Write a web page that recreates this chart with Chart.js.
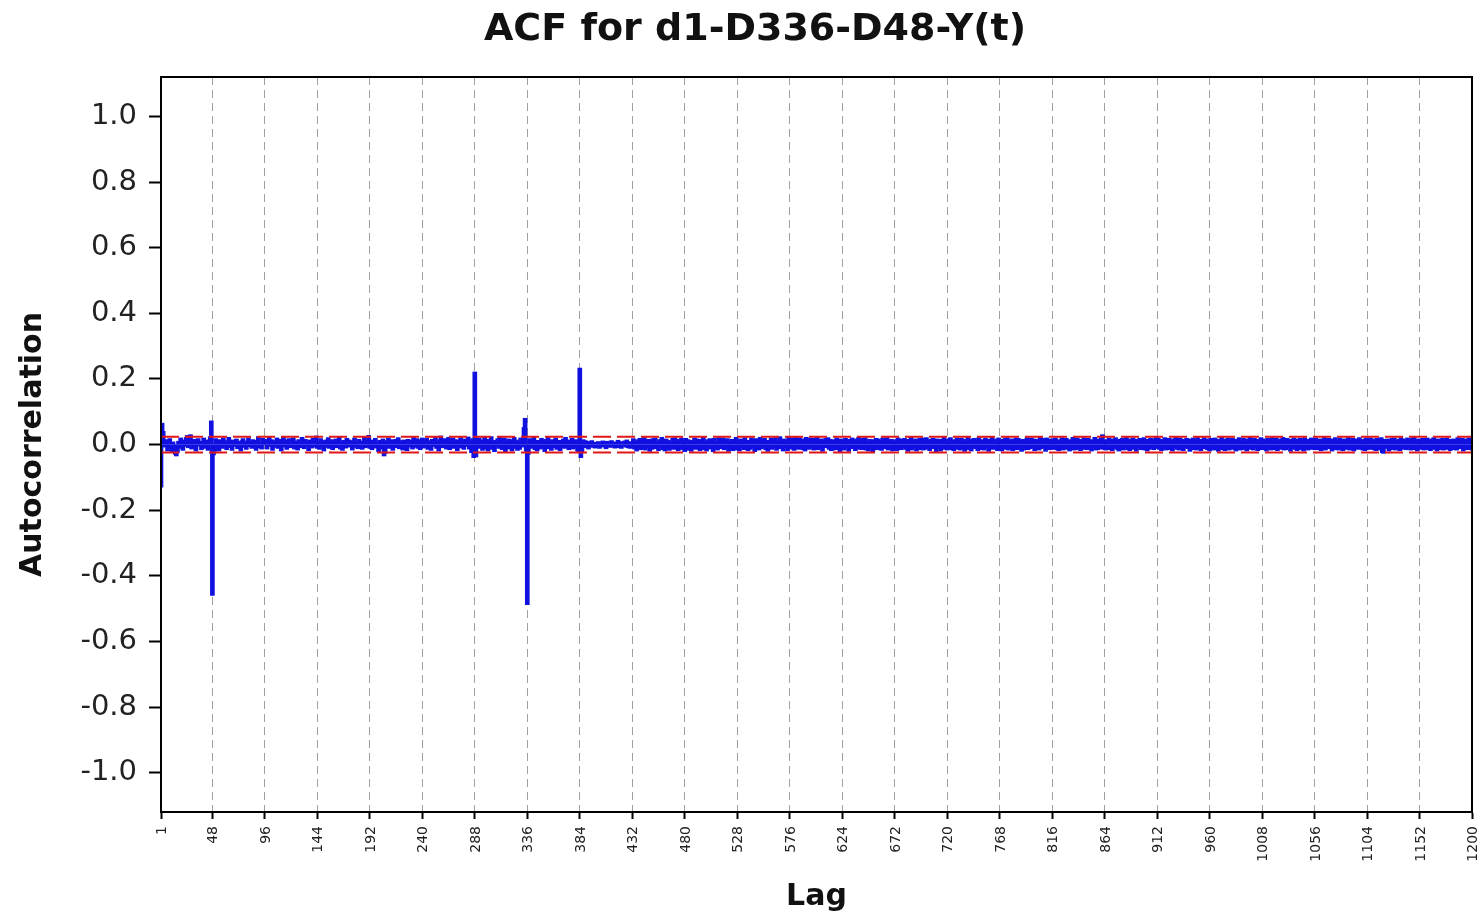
<!DOCTYPE html>
<html>
<head>
<meta charset="utf-8">
<title>ACF for d1-D336-D48-Y(t)</title>
<script src="https://cdn.jsdelivr.net/npm/chart.js@4.4.1/dist/chart.umd.min.js"></script>
<style>
  html, body { margin:0; padding:0; background:#fff; }
  #wrap { position:relative; width:1477px; height:919px; }
  canvas { display:block; }
  .lag-label {
    position:absolute;
    font:14px "DejaVu Sans", sans-serif;
    line-height:14px;
    color:#222;
    writing-mode:vertical-rl;
    transform:rotate(180deg);
    white-space:nowrap;
  }
</style>
</head>
<body>
<div id="wrap">
  <canvas id="acfChart" width="1477" height="919"></canvas>
</div>
<script>
const chartTitle = "ACF for d1-D336-D48-Y(t)";

// autocorrelation per lag, in thousandths, one row per 48 lags (lag 1..1200)
const acfMilli = [
  -130,65,40,12,-8,15,-20,5, 18,-10,-22,8,-15,-30,-35,-25, 10,-12,20,6,-18,14,-6,22, 28,-10,5,30,-14,8,16,-9, -20,12,18,-5,10,-16,7,20, -12,4,14,-18,9,24,72,-460,
  -32,-25,18,-14,10,-20,15,6, -12,20,-8,12,-16,9,22,-10, 5,-18,14,8,-6,17,-13,10, 4,-20,12,18,-9,6,-15,11, 20,-7,9,-12,15,-4,8,-18, 13,24,-10,6,-14,19,9,16,
  10,-14,8,22,-6,15,-18,5, 12,-9,20,-12,7,16,-20,9, 25,-8,14,-15,6,18,-10,12, -5,20,-14,8,11,-17,15,4, -10,22,9,-13,16,-6,10,-19, 14,7,-11,19,-8,12,26,-12,
  8,-15,18,-7,12,-20,10,14, -9,21,-12,6,15,-16,9,-4, 17,-10,11,23,-14,7,-18,13, 5,-11,19,-8,14,-6,10,-17, 12,20,-9,6,-13,16,-5,11, -15,9,22,-10,14,-7,28,-12,
  10,-16,14,-8,19,-11,6,-22, 13,8,-14,17,-35,-28,12,-9, 20,-12,7,15,-18,10,-6,16, -10,21,-13,9,12,-17,14,-5, 8,-19,16,11,-8,13,-14,22, -9,6,18,-12,10,-16,15,20,
  -11,14,-7,19,-15,9,12,-18, 16,-6,10,24,-12,8,-20,15, 26,-10,13,-8,18,-14,7,22, -16,11,-9,20,-12,15,6,-19, 14,-8,21,-11,9,-15,17,-6, 12,23,-14,10,-25,18,-40,221,
  -38,15,-12,20,-9,14,-18,11, 22,-14,8,-20,16,-10,24,-15, 9,-22,13,-6,18,-12,25,-8, -16,12,20,-24,10,-14,17,-9, 15,-20,8,22,-12,14,-18,10, -15,20,-8,12,52,80,-20,-488,
  -30,18,-12,14,-8,22,-16,10, -20,13,7,-14,19,-9,12,-22, 16,-6,24,-13,9,-18,15,11, -10,20,-15,8,13,-19,10,-7, 17,-12,22,-9,14,-16,8,-11, 19,-14,12,-8,15,-20,-25,233,
  -40,-22,15,-10,12,-8,10,-14, 8,-6,12,-9,5,-11,7,-4, 9,-12,6,-8,11,-5,7,-13, 10,-6,4,-9,12,-7,8,-11, 5,-10,13,-6,9,-12,7,-5, 11,-8,14,-10,6,-12,9,-7,
  18,-14,9,-20,15,-8,19,-16, 11,-12,21,-17,13,-9,16,-21, 12,-15,18,-10,20,-13,9,-19, 15,-8,22,-16,12,-20,17,-10, 13,-18,8,-12,19,-15,21,-9, 16,-19,10,-13,20,-16,12,-22,
  19,-10,15,-18,9,-21,13,-12, 20,-15,17,-9,12,-19,16,-13, 22,-16,10,-20,15,-8,18,-14, 13,-22,19,-12,9,-17,21,-10, 15,-13,20,-16,12,-9,18,-21, 10,-15,16,-19,13,-12,22,-17,
  12,-20,17,-9,15,-16,21,-13, 9,-19,13,-15,20,-10,16,-22, 18,-12,10,-17,22,-13,15,-8, 19,-16,12,-21,13,-10,20,-15, 16,-9,21,-18,10,-13,24,-12, 15,-20,17,-10,13,-19,22,-14,
  20,-13,16,-18,23,-9,19,-15, 21,-12,17,-16,13,-20,22,-10, 16,-15,20,-9,19,-17,12,-13, 22,-16,15,-12,17,-21,13,-9, 19,-10,21,-15,16,-19,12,-17, 15,-13,20,-16,10,-22,17,-12,
  13,-17,19,-10,15,-21,16,-13, 20,-9,12,-19,17,-15,22,-12, 10,-16,19,-13,21,-17,9,-20, 16,-12,15,-22,13,-10,19,-16, 17,-15,12,-18,20,-9,15,-13, 21,-17,13,-12,16,-20,10,-15,
  15,-19,20,-13,12,-16,17,-10, 19,-15,13,-21,16,-12,22,-17, 12,-9,17,-20,15,-13,19,-16, 20,-17,10,-15,21,-12,13,-19, 16,-13,19,-10,15,-22,17,-12, 13,-20,16,-15,22,-9,12,-17,
  17,-12,21,-16,13,-19,15,-10, 20,-15,12,-17,19,-13,16,-21, 10,-16,22,-12,15,-20,17,-9, 19,-13,13,-19,21,-15,12,-16, 15,-17,20,-10,16,-21,13,-12, 22,-15,17,-13,12,-19,20,-16,
  13,-20,16,-12,19,-15,21,-17, 12,-13,17,-19,15,-10,20,-16, 19,-12,13,-21,16,-17,10,-15, 21,-16,15,-13,20,-9,17,-19, 16,-15,12,-17,22,-13,19,-10, 15,-21,20,-12,13,-16,17,-15,
  17,-13,20,-16,12,-19,15,-10, 21,-17,16,-12,19,-15,13,-20, 15,-9,22,-17,13,-16,20,-12, 16,-19,12,-15,21,-13,17,-16, 19,-12,15,-20,13,-10,22,-17, 12,-16,17,-13,20,30,-15,13,
  -17,15,-12,20,-16,13,-19,17, -10,21,-15,12,-20,16,-13,19, -17,15,-9,22,-16,13,-19,17, -12,20,-15,16,-21,13,-10,19, -16,15,-13,21,-17,12,-20,16, -15,19,-10,17,-16,13,25,-12,
  20,-15,16,-19,13,-12,21,-17, 15,-13,19,-16,12,-20,17,-10, 22,-15,13,-17,20,-12,16,-19, 15,-9,19,-13,17,-21,12,-16, 20,-15,13,-17,22,-12,15,-19, 16,-13,21,-10,17,-16,13,-20,
  19,-12,15,-17,20,-13,16,-21, 13,-15,22,-16,12,-19,17,-10, 20,-17,15,-12,19,-15,13,-20, 16,-13,21,-17,10,-16,19,-12, 15,-20,17,-13,22,-15,12,-17, 19,-10,16,-19,13,-15,21,-16,
  17,-15,13,-20,19,-12,16,-17, 21,-13,15,-16,20,-19,12,-15, 17,-12,22,-17,13,-16,19,-10, 15,-21,16,-13,20,-15,17,-19, 13,-12,19,-16,15,-20,21,-13, 16,-17,12,-15,20,-13,17,-16,
  20,-16,15,-12,17,-19,13,-15, 22,-17,16,-13,19,-12,15,-20, 17,-15,21,-16,12,-17,20,-13, 15,-19,17,-10,16,-15,22,-17, 13,-16,19,-20,15,-12,17,-15, 21,-13,16,-17,12,-19,20,-16,
  16,-15,20,-12,17,-16,13,-19, 19,-13,15,-17,21,-25,-27,16, 15,-12,17,-20,13,-16,19,-15, 20,-17,12,-13,16,-19,21,-10, 17,-15,13,-16,20,-12,15,-17, 19,-16,22,-13,12,-20,17,-15,
  16,-13,19,-17,15,-12,20,-16, 13,-19,17,-15,21,-13,16,-20, 17,-12,15,-16,19,-17,13,-15, 20,-13,16,-19,12,-15,17,-16, 15,-17,21,-12,16,-13,19,-20, 17,-15,13,-16,20,-12,15,-17
];

// x tick positions and y tick values
const lagTicks = [1,48,96,144,192,240,288,336,384,432,480,528,576,624,672,720,768,816,864,912,960,1008,1056,1104,1152,1200];
const acfTicks = [-1.0,-0.8,-0.6,-0.4,-0.2,0.0,0.2,0.4,0.6,0.8,1.0];

// 95% confidence bound
const confBound = 0.024;

const firstLag = lagTicks[0];
const lastLag = lagTicks[lagTicks.length - 1];
const acfPoints = acfMilli.map((v, i) => ({ x: i + 1, y: v / 1000 }));

// frame round the plot and the chart title
const frameAndTitle = {
  id: "frameAndTitle",
  afterDraw(chart) {
    const { ctx, chartArea: a } = chart;
    ctx.save();
    ctx.strokeStyle = "#000";
    ctx.lineWidth = 2;
    ctx.strokeRect(a.left, a.top, a.right - a.left, a.bottom - a.top);
    ctx.fillStyle = "#111";
    ctx.font = "bold 38px 'DejaVu Sans'";
    ctx.textAlign = "center";
    ctx.textBaseline = "middle";
    ctx.fillText(chartTitle, 755, 30);
    ctx.restore();
  }
};

const chart = new Chart(document.getElementById("acfChart"), {
  type: "bar",
  data: {
    datasets: [
      {
        label: "upper bound",
        type: "line",
        data: [{ x: firstLag, y: confBound }, { x: lastLag, y: confBound }],
        borderColor: "#e01818",
        borderWidth: 2,
        borderDash: [18, 6],
        pointRadius: 0,
        order: 0
      },
      {
        label: "lower bound",
        type: "line",
        data: [{ x: firstLag, y: -confBound }, { x: lastLag, y: -confBound }],
        borderColor: "#e01818",
        borderWidth: 2,
        borderDash: [18, 6],
        pointRadius: 0,
        order: 0
      },
      {
        label: "ACF",
        data: acfPoints,
        backgroundColor: "#1010e0",
        borderWidth: 0,
        barThickness: 4,
        order: 1
      }
    ]
  },
  options: {
    responsive: false,
    animation: false,
    devicePixelRatio: 1,
    layout: { padding: { top: 77, right: 5, bottom: 0, left: 0 } },
    plugins: { legend: { display: false }, tooltip: { enabled: false } },
    scales: {
      x: {
        type: "linear",
        min: firstLag,
        max: lastLag,
        offset: false,
        afterBuildTicks: s => { s.ticks = lagTicks.map(v => ({ value: v })); },
        afterFit: s => { s.height = 107; s.paddingLeft = 0; s.paddingRight = 0; },
        ticks: { display: false },
        grid: {
          offset: false,
          color: "#a0a0a0",
          lineWidth: 1,
          tickColor: "#000",
          tickLength: 7,
          tickWidth: 2,
          tickBorderDash: []
        },
        border: { color: "#000", width: 2, dash: [8, 5] },
        title: {
          display: true,
          text: "Lag",
          color: "#111",
          font: { family: "DejaVu Sans", size: 30, weight: "bold" },
          padding: { top: 0, bottom: 4 }
        }
      },
      y: {
        min: -1.12,
        max: 1.12,
        afterBuildTicks: s => { s.ticks = acfTicks.map(v => ({ value: v })); },
        afterFit: s => { s.width = 161; s.paddingTop = 0; s.paddingBottom = 0; },
        ticks: {
          padding: 12,
          color: "#222",
          font: { family: "DejaVu Sans", size: 29 },
          callback: v => v.toFixed(1)
        },
        grid: {
          drawOnChartArea: false,
          tickColor: "#000",
          tickLength: 12,
          tickWidth: 2
        },
        border: { color: "#000", width: 2 },
        title: {
          display: true,
          text: "Autocorrelation",
          color: "#111",
          font: { family: "DejaVu Sans", size: 30, weight: "bold" },
          padding: { top: 15, bottom: 0 }
        }
      }
    }
  },
  plugins: [frameAndTitle]
});

// vertical lag labels under the x axis, placed from the scale
const wrap = document.getElementById("wrap");
const xScale = chart.scales.x;
lagTicks.forEach(v => {
  const el = document.createElement("div");
  el.className = "lag-label";
  el.textContent = String(v);
  wrap.appendChild(el);
  el.style.left = (xScale.getPixelForValue(v) - el.offsetWidth / 2) + "px";
  el.style.top = (chart.chartArea.bottom + 14) + "px";
});
</script>
</body>
</html>
